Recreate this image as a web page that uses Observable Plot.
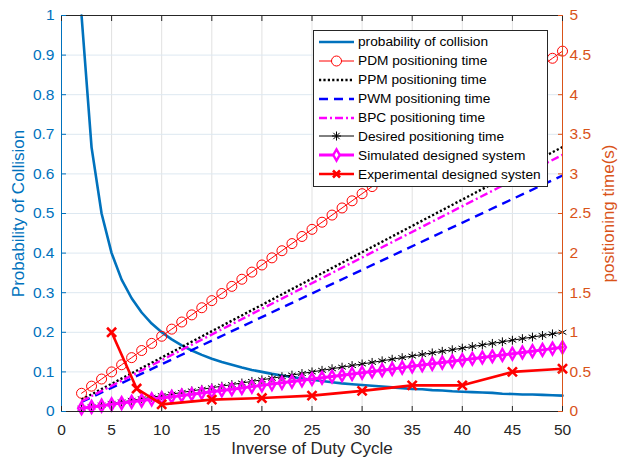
<!DOCTYPE html>
<html>
<head>
<meta charset="utf-8">
<script src="https://cdn.jsdelivr.net/npm/d3@7"></script>
<script src="https://cdn.jsdelivr.net/npm/@observablehq/plot@0.6"></script>
<style>
  body { margin: 0; background: #fff; font-family: "Liberation Sans", Arial, sans-serif; }
  #wrap { position: relative; width: 618px; height: 462px; }
  #legend { position: absolute; left: 313px; top: 30px; width: 235px; height: 157px;
            border: 1px solid #262626; background: #fff; box-sizing: border-box; padding-top: 1.5px; }
  .row { height: 18.9px; display: flex; align-items: center; }
  .row svg { margin-left: 4px; flex: none; }
  .row span { margin-left: 3px; font-size: 13.7px; color: #000; white-space: nowrap; }
</style>
</head>
<body>
<div id="wrap"><div id="chart"></div><div id="legend"></div></div>
<script>
// ---------- data ----------
const xs = [2,3,4,5,6,7,8,9,10,11,12,13,14,15,16,17,18,19,20,21,22,23,24,25,26,27,28,29,30,
            31,32,33,34,35,36,37,38,39,40,41,42,43,44,45,46,47,48,49,50];
const probCollision = [1,0.667,0.5,0.4,0.333,0.286,0.25,0.222,0.2,0.182,0.167,0.154,0.143,0.133,
  0.125,0.118,0.111,0.105,0.1,0.095,0.091,0.087,0.083,0.08,0.077,0.074,0.071,0.069,0.067,0.065,
  0.063,0.061,0.059,0.057,0.056,0.054,0.053,0.051,0.05,0.049,0.048,0.047,0.045,0.044,0.043,0.043,
  0.042,0.041,0.04];
const pdmTime = [0.23,0.32,0.41,0.50,0.59,0.68,0.77,0.86,0.95,1.04,1.13,1.22,1.31,1.40,1.49,1.58,
  1.67,1.76,1.85,1.94,2.03,2.12,2.21,2.30,2.39,2.48,2.57,2.66,2.75,2.84,2.93,3.02,3.11,3.20,3.29,
  3.38,3.47,3.56,3.65,3.74,3.83,3.92,4.01,4.10,4.19,4.28,4.37,4.46,4.55];
const lineEndsX = [2, 50];
const ppmTime = [0.15, 3.34];
const pwmTime = [0.12, 2.98];
const bpcTime = [0.13, 3.24];
const desiredTime = [0.04,0.06,0.08,0.10,0.12,0.14,0.16,0.18,0.20,0.22,0.24,0.26,0.28,0.30,0.32,
  0.34,0.36,0.38,0.40,0.42,0.44,0.46,0.48,0.50,0.52,0.54,0.56,0.58,0.60,0.62,0.64,0.66,0.68,0.70,
  0.72,0.74,0.76,0.78,0.80,0.82,0.84,0.86,0.88,0.90,0.92,0.94,0.96,0.98,1.00];
const simulatedTime = [0.042,0.058,0.074,0.09,0.106,0.122,0.138,0.154,0.17,0.186,0.202,0.218,0.234,
  0.25,0.266,0.282,0.298,0.314,0.33,0.346,0.362,0.378,0.394,0.41,0.426,0.442,0.458,0.474,0.49,0.506,
  0.522,0.538,0.554,0.57,0.586,0.602,0.618,0.634,0.65,0.666,0.682,0.698,0.714,0.73,0.746,0.762,
  0.778,0.794,0.81];
const expX = [5, 7.5, 10, 15, 20, 25, 30, 35, 40, 45, 50];
const expTime = [1.0, 0.29, 0.09, 0.15, 0.17, 0.20, 0.26, 0.33, 0.33, 0.50, 0.54];

const xTicks = [0,5,10,15,20,25,30,35,40,45,50];
const probTicks = [0,0.1,0.2,0.3,0.4,0.5,0.6,0.7,0.8,0.9,1];
const timeTicks = [0,0.5,1,1.5,2,2.5,3,3.5,4,4.5,5];
const timeMax = 5;   // right axis top
const legendLabels = ["probability of collision","PDM positioning time","PPM positioning time",
  "PWM positioning time","BPC positioning time","Desired positioning time",
  "Simulated designed system","Experimental designed systen"];

// ---------- tables ----------
const main = xs.map((x, i) => ({x, prob: probCollision[i], pdm: pdmTime[i],
  desired: desiredTime[i], sim: simulatedTime[i]}));
const straight = lineEndsX.map((x, i) => ({x, ppm: ppmTime[i], pwm: pwmTime[i], bpc: bpcTime[i]}));
const exp = expX.map((x, i) => ({x, t: expTime[i]}));
const T = k => d => d[k] / timeMax;   // right-axis value in left-axis units

const BLUE = "#0072BD", ORANGE = "#D95319", DARK = "#262626";

const chart = Plot.plot({
  width: 618, height: 462,
  marginLeft: 61, marginRight: 56, marginTop: 15, marginBottom: 51,
  x: {domain: [0, 50], label: null},
  y: {domain: [0, 1], label: null},
  style: {fontFamily: "Liberation Sans, Arial, sans-serif", fontSize: "15px", background: "#fff"},
  marks: [
    Plot.gridX(xTicks, {stroke: "#e1e1e1", strokeOpacity: 1}),
    Plot.gridY(probTicks, {stroke: "#dde8f1", strokeOpacity: 1}),
    // series
    Plot.line(main, {x: "x", y: "prob", stroke: BLUE, strokeWidth: 2.6}),
    Plot.line(main, {x: "x", y: T("pdm"), stroke: "#ff0000", strokeWidth: 1}),
    Plot.dot(main, {x: "x", y: T("pdm"), r: 5, stroke: "#ff0000", strokeWidth: 1, fill: "none"}),
    Plot.line(straight, {x: "x", y: T("ppm"), stroke: "#000", strokeWidth: 2.4, strokeDasharray: "2.2,2.2", strokeLinecap: "butt"}),
    Plot.line(straight, {x: "x", y: T("pwm"), stroke: "#0000ff", strokeWidth: 2.4, strokeDasharray: "9,6", strokeLinecap: "butt"}),
    Plot.line(straight, {x: "x", y: T("bpc"), stroke: "#ff00ff", strokeWidth: 2.4, strokeDasharray: "8,3,2,3", strokeLinecap: "butt"}),
    Plot.line(main, {x: "x", y: T("desired"), stroke: "#000", strokeWidth: 1}),
    Plot.dot(main, {x: "x", y: T("desired"), symbol: "asterisk", r: 4.2, stroke: "#000", strokeWidth: 1}),
    Plot.line(main, {x: "x", y: T("sim"), stroke: "#ff00ff", strokeWidth: 3}),
    Plot.dot(main, {x: "x", y: T("sim"), symbol: d3.symbolDiamond, r: 3.6, stroke: "#ff00ff", strokeWidth: 2.4, fill: "none"}),
    Plot.line(exp, {x: "x", y: T("t"), stroke: "#ff0000", strokeWidth: 2.6}),
    Plot.dot(exp, {x: "x", y: T("t"), symbol: "times", r: 4.2, stroke: "#ff0000", strokeWidth: 2.6}),
    // box
    Plot.ruleY([0, 1], {stroke: DARK, strokeWidth: 1}),
    Plot.ruleX([0], {stroke: BLUE, strokeWidth: 1}),
    Plot.ruleX([50], {stroke: ORANGE, strokeWidth: 1}),
    // axes
    Plot.axisX(xTicks, {anchor: "bottom", label: null, tickSize: -5, tickPadding: 17, stroke: DARK, fill: DARK, fontSize: 15.5}),
    Plot.axisX(xTicks, {anchor: "top", label: null, tickSize: -5, tickFormat: () => "", stroke: DARK}),
    Plot.axisY(probTicks, {anchor: "left", label: null, tickSize: -5, tickPadding: 12, stroke: BLUE, fill: BLUE, fontSize: 15.5,
      tickFormat: d3.format("~g")}),
    Plot.axisY(timeTicks.map(t => t / timeMax), {anchor: "right", label: null, tickSize: -5, tickPadding: 12,
      stroke: ORANGE, fill: ORANGE, fontSize: 15.5, tickFormat: d => d3.format(".1~f")(d * timeMax)}),
    // axis titles
    Plot.text(["Inverse of Duty Cycle"], {frameAnchor: "bottom", textAnchor: "middle", dy: 42, fill: DARK, fontSize: 17}),
    Plot.text(["Probability of Collision"], {frameAnchor: "left", textAnchor: "middle", rotate: -90, dx: -43, fill: BLUE, fontSize: 17}),
    Plot.text(["positioning time(s)"], {frameAnchor: "right", textAnchor: "middle", rotate: -90, dx: 46, fill: ORANGE, fontSize: 17})
  ]
});
document.getElementById("chart").appendChild(chart);

// ---------- legend ----------
const legendStyles = [
  {stroke: BLUE, w: 2.6},
  {stroke: "#ff0000", w: 1, mark: "circle"},
  {stroke: "#000", w: 2.4, dash: "2.2,2.2"},
  {stroke: "#0000ff", w: 2.4, dash: "9,6"},
  {stroke: "#ff00ff", w: 2.4, dash: "8,3,2,3"},
  {stroke: "#000", w: 1, mark: "asterisk"},
  {stroke: "#ff00ff", w: 3, mark: "diamond"},
  {stroke: "#ff0000", w: 2.6, mark: "times"}
];
const leg = d3.select("#legend");
legendLabels.forEach((label, i) => {
  const s = legendStyles[i];
  const row = leg.append("div").attr("class", "row");
  const svg = row.append("svg").attr("width", 37).attr("height", 16);
  svg.append("line").attr("x1", 1).attr("x2", 36).attr("y1", 8).attr("y2", 8)
    .attr("stroke", s.stroke).attr("stroke-width", s.w).attr("stroke-dasharray", s.dash || null);
  const cx = 18.5, cy = 8;
  if (s.mark === "circle") svg.append("circle").attr("cx", cx).attr("cy", cy).attr("r", 5)
    .attr("fill", "#fff").attr("stroke", s.stroke);
  if (s.mark === "asterisk") svg.append("path").attr("transform", `translate(${cx},${cy})`)
    .attr("d", "M0,-4.5V4.5M-4.5,0H4.5M-3.2,-3.2L3.2,3.2M-3.2,3.2L3.2,-3.2").attr("stroke", "#000");
  if (s.mark === "diamond") svg.append("path").attr("transform", `translate(${cx},${cy})`)
    .attr("d", d3.symbol(d3.symbolDiamond, 36)()).attr("fill", "#fff").attr("stroke", s.stroke).attr("stroke-width", 2.4);
  if (s.mark === "times") svg.append("path").attr("transform", `translate(${cx},${cy})`)
    .attr("d", "M-3.5,-3.5L3.5,3.5M-3.5,3.5L3.5,-3.5").attr("stroke", s.stroke).attr("stroke-width", 2.6);
  row.append("span").text(label);
});
</script>
</body>
</html>
